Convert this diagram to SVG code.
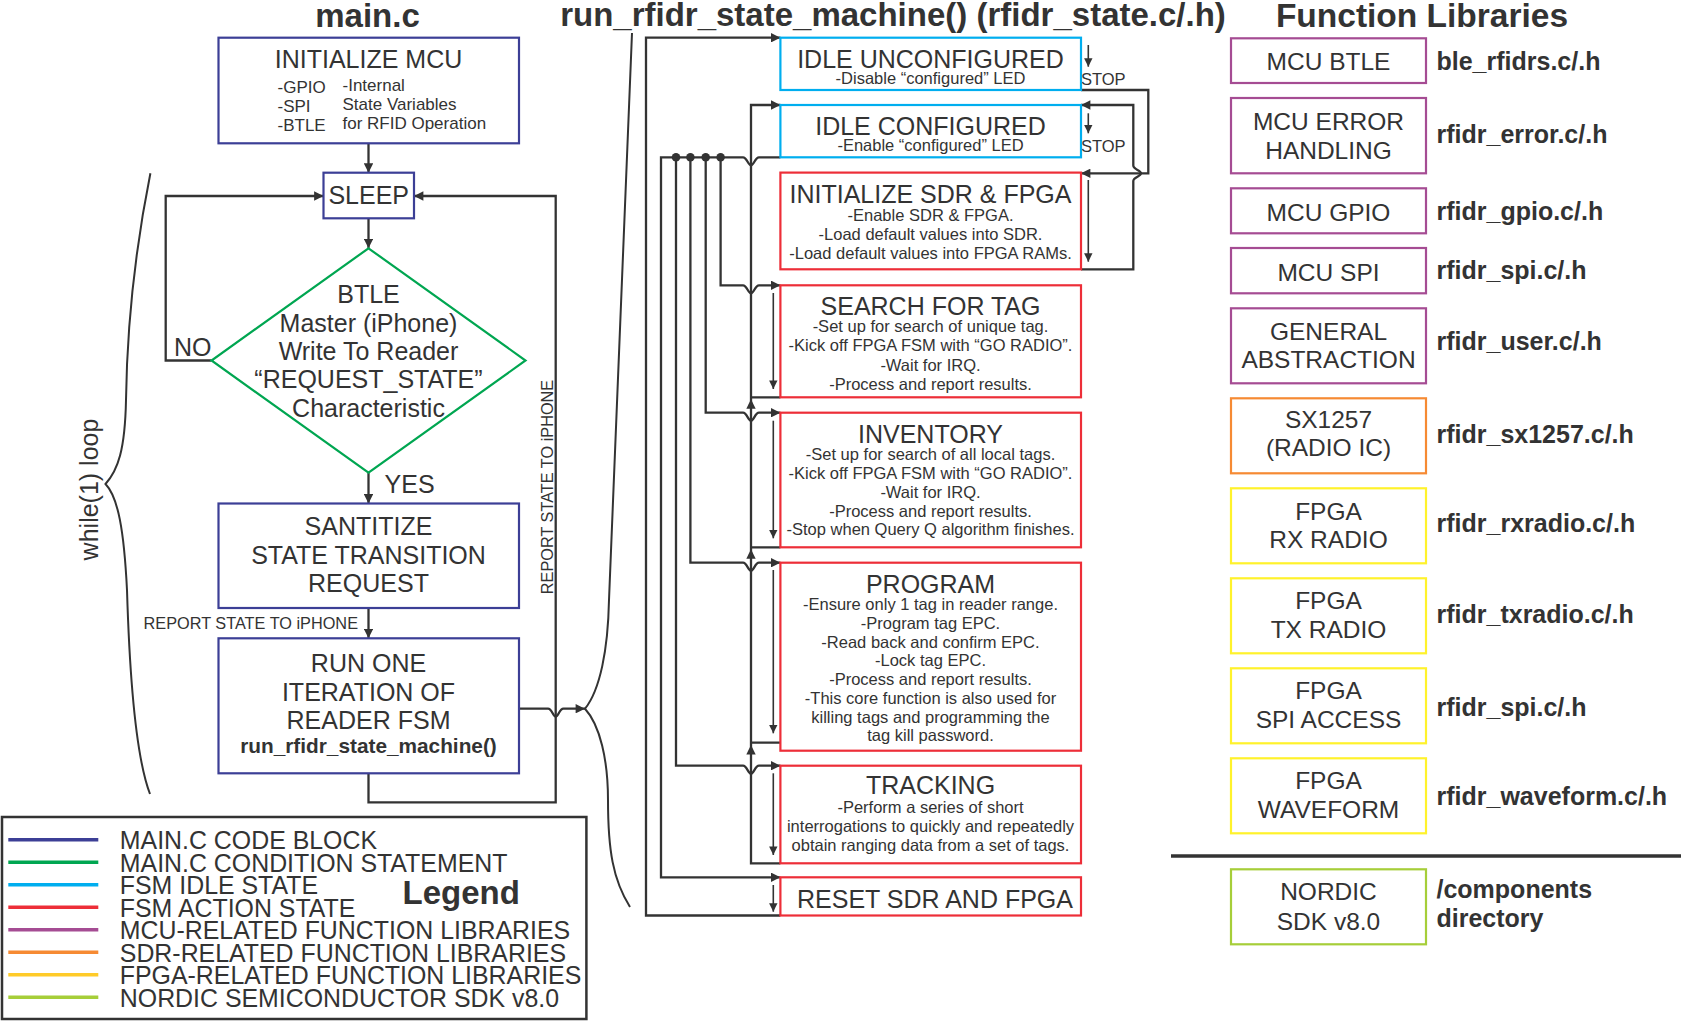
<svg xmlns="http://www.w3.org/2000/svg" width="1681" height="1022" viewBox="0 0 1681 1022">
<style>
.t{font-family:"Liberation Sans",Arial,Helvetica,sans-serif;fill:#333}
.c{text-anchor:middle}
.L{font-size:25px}
.M{font-size:24.5px}
.N{font-size:25px}
.s{font-size:16.5px}
.b{font-weight:bold}
.T{font-size:33px;font-weight:bold}
.box{fill:#fff;stroke-width:2.2}
.main{stroke:#3c3f96}
.cond{stroke:#00a651}
.idle{stroke:#00aeef}
.act{stroke:#ed2e38}
.mcu{stroke:#a54c93}
.sdr{stroke:#f68a33}
.fpga{stroke:#fff22b}
.nrd{stroke:#a6ce39}
.w{fill:none;stroke:#333;stroke-width:2.3}
.th{fill:none;stroke:#333;stroke-width:1.6}
.br{fill:none;stroke:#333;stroke-width:2}
.ua{fill:#333}
</style>
<defs>
<marker id="ah" viewBox="0 0 10 10" refX="10" refY="5" markerWidth="10" markerHeight="9.4" markerUnits="userSpaceOnUse" orient="auto"><path d="M0,0L10,5L0,10z" fill="#333"/></marker>
<marker id="as" viewBox="0 0 10 10" refX="10" refY="5" markerWidth="9" markerHeight="8.4" markerUnits="userSpaceOnUse" orient="auto"><path d="M0,0L10,5L0,10z" fill="#333"/></marker>
</defs>
<rect width="1681" height="1022" fill="#fff"/>

<!-- titles -->
<text class="t T c" x="367.5" y="27">main.c</text>
<text class="t T c" x="893" y="26">run_rfidr_state_machine() (rfidr_state.c/.h)</text>
<text class="t c" style="font-size:33.5px;font-weight:bold" x="1422" y="27">Function Libraries</text>

<!-- connectors -->
<g id="connectors">
<path class="w" marker-end="url(#ah)" d="M368.5,143.3V172.7"/>
<path class="w" marker-end="url(#ah)" d="M368.5,218.3V248.3"/>
<path class="w" marker-end="url(#ah)" d="M211.5,360.5H165.7V196H323.5"/>
<path class="w" marker-end="url(#ah)" d="M368.5,472.7V503.5"/>
<path class="w" marker-end="url(#ah)" d="M368.5,608V638.3"/>
<path class="w" marker-end="url(#ah)" d="M368.5,773.3V802.4H555.7V196H414"/>
<path class="w" marker-end="url(#ah)" d="M519,708.7H548C552,708.7 553,716.7 555.7,716.7C558.4,716.7 559.4,708.7 563.4,708.7H585"/>
<!-- braces -->
<path class="br" d="M632,33L609,600C608,650 600,690 585,708.7C600,725 608,760 608,800C608,850 613,880 630,907"/>
<path class="br" d="M150.4,173.3C135,250 127,330 126,400C125,450 118,470 105.5,484C118,497 124,530 127,590C130,690 137,760 150,794"/>
<!-- FSM outer: RESET -> IDLE UNCONFIGURED -->
<path class="w" marker-end="url(#ah)" d="M780.4,915.5H646V37.7H780.4"/>
<!-- bus from IDLE CONFIGURED -->
<path class="w" marker-end="url(#ah)" d="M780.4,157.3H759C755,157.3 754,165.3 751,165.3C748,165.3 747,157.3 743,157.3H661V877.3H780.4"/>
<path class="w" marker-end="url(#ah)" d="M720.6,157.3V285.3H743C747,285.3 748,293.3 751,293.3C754,293.3 755,285.3 759,285.3H780.4"/>
<path class="w" marker-end="url(#ah)" d="M705.7,157.3V412.7H743C747,412.7 748,420.7 751,420.7C754,420.7 755,412.7 759,412.7H780.4"/>
<path class="w" marker-end="url(#ah)" d="M690.4,157.3V562.7H743C747,562.7 748,570.7 751,570.7C754,570.7 755,562.7 759,562.7H780.4"/>
<path class="w" marker-end="url(#ah)" d="M676,157.3V765.7H743C747,765.7 748,773.7 751,773.7C754,773.7 755,765.7 759,765.7H780.4"/>
<circle class="ua" cx="676" cy="157.3" r="4.3"/>
<circle class="ua" cx="690.4" cy="157.3" r="4.3"/>
<circle class="ua" cx="705.7" cy="157.3" r="4.3"/>
<circle class="ua" cx="720.6" cy="157.3" r="4.3"/>
<!-- return line to IDLE CONFIGURED -->
<path class="w" marker-end="url(#ah)" d="M780.4,863.3H751V105H780.4"/>
<path class="w" d="M780.4,742.7H751M780.4,547.3H751M780.4,397.3H751"/>
<polygon class="ua" points="751,745 755.7,754.5 746.3,754.5"/>
<polygon class="ua" points="751,549.3 755.7,558.8 746.3,558.8"/>
<polygon class="ua" points="751,399.3 755.7,408.8 746.3,408.8"/>
<!-- right side loops -->
<path class="w" marker-end="url(#ah)" d="M1081,90H1148.3V173.3H1081"/>
<path class="w" marker-end="url(#ah)" d="M1081,269.3H1133.3V181C1133.3,177 1141,176.5 1141,173.3C1141,170.1 1133.3,169.6 1133.3,165.6V105H1081"/>
<!-- internal down arrows -->
<path class="th" marker-end="url(#as)" d="M1088.3,45V66.7"/>
<path class="th" marker-end="url(#as)" d="M1088.3,113.3V133.3"/>
<path class="th" marker-end="url(#as)" d="M1088.3,180V261.7"/>
<path class="th" marker-end="url(#as)" d="M773.3,293V389"/>
<path class="th" marker-end="url(#as)" d="M773.3,420.7V538.3"/>
<path class="th" marker-end="url(#as)" d="M773.3,570V733.3"/>
<path class="th" marker-end="url(#as)" d="M773.3,773.3V855"/>
<path class="th" marker-end="url(#as)" d="M773.3,885V911.7"/>
<!-- connector labels -->
<text class="t L" x="174" y="356">NO</text>
<text class="t L" x="384.6" y="492.7">YES</text>
<text class="t" style="font-size:16.3px;text-anchor:end" x="358" y="629.3">REPORT STATE TO iPHONE</text>
<text class="t c" style="font-size:16.3px" transform="translate(553,487) rotate(-90)">REPORT STATE TO iPHONE</text>
<text class="t L c" transform="translate(97.5,489.5) rotate(-90)">while(1) loop</text>
<text class="t s" x="1081" y="85">STOP</text>
<text class="t s" x="1081" y="151.7">STOP</text>
</g>

<!-- main.c nodes -->
<g id="init-mcu">
<rect class="box main" x="218.5" y="37.7" width="300.5" height="105.6"/>
<text class="t L c" x="368.5" y="68.3">INITIALIZE MCU</text>
<text class="t" style="font-size:17px" x="277.5" y="92.7">-GPIO</text>
<text class="t" style="font-size:17px" x="277.5" y="111.7">-SPI</text>
<text class="t" style="font-size:17px" x="277.5" y="130.7">-BTLE</text>
<text class="t" style="font-size:17px" x="342.5" y="91">-Internal</text>
<text class="t" style="font-size:17px" x="342.5" y="110">State Variables</text>
<text class="t" style="font-size:17px" x="342.5" y="129">for RFID Operation</text>
</g>
<g id="sleep">
<rect class="box main" x="323.5" y="172.7" width="90.5" height="45.6"/>
<text class="t L c" x="368.7" y="204">SLEEP</text>
</g>
<g id="btle-decision">
<polygon class="box cond" points="368.5,248.3 525.5,360.5 368.5,472.7 211.5,360.5"/>
<text class="t L c" x="368.5" y="303.3">BTLE</text>
<text class="t L c" x="368.5" y="331.7">Master (iPhone)</text>
<text class="t L c" x="368.5" y="360">Write To Reader</text>
<text class="t L c" x="368.5" y="388.3">“REQUEST_STATE”</text>
<text class="t L c" x="368.5" y="416.7">Characteristic</text>
</g>
<g id="sanitize">
<rect class="box main" x="218.5" y="503.5" width="300.5" height="104.5"/>
<text class="t L c" x="368.5" y="535.2">SANTITIZE</text>
<text class="t L c" x="368.5" y="563.8">STATE TRANSITION</text>
<text class="t L c" x="368.5" y="592">REQUEST</text>
</g>
<g id="run-one">
<rect class="box main" x="218.5" y="638.3" width="300.5" height="135"/>
<text class="t L c" x="368.5" y="672">RUN ONE</text>
<text class="t L c" x="368.5" y="700.7">ITERATION OF</text>
<text class="t L c" x="368.5" y="729">READER FSM</text>
<text class="t b c" style="font-size:20.8px" x="368.5" y="753.4">run_rfidr_state_machine()</text>
</g>

<!-- FSM nodes -->
<g id="idle-unconfigured">
<rect class="box idle" x="780.4" y="37.7" width="300.6" height="52.3"/>
<text class="t L c" x="930.5" y="67.8">IDLE UNCONFIGURED</text>
<text class="t s c" x="930.5" y="83.5">-Disable “configured” LED</text>
</g>
<g id="idle-configured">
<rect class="box idle" x="780.4" y="105" width="300.6" height="52.3"/>
<text class="t L c" x="930.5" y="134.5">IDLE CONFIGURED</text>
<text class="t s c" x="930.5" y="150.9">-Enable “configured” LED</text>
</g>
<g id="init-sdr-fpga">
<rect class="box act" x="780.4" y="172.6" width="300.6" height="96.7"/>
<text class="t L c" x="930.5" y="202.7">INITIALIZE SDR &amp; FPGA</text>
<text class="t s c" x="930.5" y="220.7">-Enable SDR &amp; FPGA.</text>
<text class="t s c" x="930.5" y="240">-Load default values into SDR.</text>
<text class="t s c" x="930.5" y="259">-Load default values into FPGA RAMs.</text>
</g>
<g id="search-for-tag">
<rect class="box act" x="780.4" y="285.3" width="300.6" height="112"/>
<text class="t L c" x="930.5" y="315">SEARCH FOR TAG</text>
<text class="t s c" x="930.5" y="332.3">-Set up for search of unique tag.</text>
<text class="t s c" x="930.5" y="351">-Kick off FPGA FSM with “GO RADIO”.</text>
<text class="t s c" x="930.5" y="370.7">-Wait for IRQ.</text>
<text class="t s c" x="930.5" y="390">-Process and report results.</text>
</g>
<g id="inventory">
<rect class="box act" x="780.4" y="412.7" width="300.6" height="134.6"/>
<text class="t L c" x="930.5" y="443.3">INVENTORY</text>
<text class="t s c" x="930.5" y="460">-Set up for search of all local tags.</text>
<text class="t s c" x="930.5" y="479.3">-Kick off FPGA FSM with “GO RADIO”.</text>
<text class="t s c" x="930.5" y="497.7">-Wait for IRQ.</text>
<text class="t s c" x="930.5" y="516.7">-Process and report results.</text>
<text class="t s c" x="930.5" y="535.3">-Stop when Query Q algorithm finishes.</text>
</g>
<g id="program">
<rect class="box act" x="780.4" y="562.7" width="300.6" height="188"/>
<text class="t L c" x="930.5" y="592.7">PROGRAM</text>
<text class="t s c" x="930.5" y="610">-Ensure only 1 tag in reader range.</text>
<text class="t s c" x="930.5" y="628.7">-Program tag EPC.</text>
<text class="t s c" x="930.5" y="647.7">-Read back and confirm EPC.</text>
<text class="t s c" x="930.5" y="666.3">-Lock tag EPC.</text>
<text class="t s c" x="930.5" y="685">-Process and report results.</text>
<text class="t s c" x="930.5" y="703.7">-This core function is also used for</text>
<text class="t s c" x="930.5" y="722.7">killing tags and programming the</text>
<text class="t s c" x="930.5" y="741">tag kill password.</text>
</g>
<g id="tracking">
<rect class="box act" x="780.4" y="765.7" width="300.6" height="97.6"/>
<text class="t L c" x="930.5" y="794">TRACKING</text>
<text class="t s c" x="930.5" y="813.3">-Perform a series of short</text>
<text class="t s c" x="930.5" y="831.7">interrogations to quickly and repeatedly</text>
<text class="t s c" x="930.5" y="850.7">obtain ranging data from a set of tags.</text>
</g>
<g id="reset-sdr-fpga">
<rect class="box act" x="780.4" y="877.3" width="300.6" height="38.2"/>
<text class="t L c" x="935" y="908.3">RESET SDR AND FPGA</text>
</g>

<!-- function libraries -->
<g id="lib-mcu-btle">
<rect class="box mcu" x="1231" y="38.3" width="195" height="44.7"/>
<text class="t M c" x="1328.5" y="70">MCU BTLE</text>
<text class="t N b" x="1436.5" y="70">ble_rfidrs.c/.h</text>
</g>
<g id="lib-mcu-error">
<rect class="box mcu" x="1231" y="98" width="195" height="75.3"/>
<text class="t M c" x="1328.5" y="130">MCU ERROR</text>
<text class="t M c" x="1328.5" y="159.3">HANDLING</text>
<text class="t N b" x="1436.5" y="143.3">rfidr_error.c/.h</text>
</g>
<g id="lib-mcu-gpio">
<rect class="box mcu" x="1231" y="188.3" width="195" height="45"/>
<text class="t M c" x="1328.5" y="220.7">MCU GPIO</text>
<text class="t N b" x="1436.5" y="219.5">rfidr_gpio.c/.h</text>
</g>
<g id="lib-mcu-spi">
<rect class="box mcu" x="1231" y="248" width="195" height="45.3"/>
<text class="t M c" x="1328.5" y="280.7">MCU SPI</text>
<text class="t N b" x="1436.5" y="278.5">rfidr_spi.c/.h</text>
</g>
<g id="lib-general">
<rect class="box mcu" x="1231" y="308.3" width="195" height="75"/>
<text class="t M c" x="1328.5" y="340">GENERAL</text>
<text class="t M c" x="1328.5" y="368.3">ABSTRACTION</text>
<text class="t N b" x="1436.5" y="350">rfidr_user.c/.h</text>
</g>
<g id="lib-sx1257">
<rect class="box sdr" x="1231" y="398.3" width="195" height="75"/>
<text class="t M c" x="1328.5" y="427.7">SX1257</text>
<text class="t M c" x="1328.5" y="456">(RADIO IC)</text>
<text class="t N b" x="1436.5" y="443.3">rfidr_sx1257.c/.h</text>
</g>
<g id="lib-fpga-rx">
<rect class="box fpga" x="1231" y="488.3" width="195" height="75"/>
<text class="t M c" x="1328.5" y="520">FPGA</text>
<text class="t M c" x="1328.5" y="548.3">RX RADIO</text>
<text class="t N b" x="1436.5" y="531.7">rfidr_rxradio.c/.h</text>
</g>
<g id="lib-fpga-tx">
<rect class="box fpga" x="1231" y="578.3" width="195" height="75"/>
<text class="t M c" x="1328.5" y="609.3">FPGA</text>
<text class="t M c" x="1328.5" y="638.3">TX RADIO</text>
<text class="t N b" x="1436.5" y="623.3">rfidr_txradio.c/.h</text>
</g>
<g id="lib-fpga-spi">
<rect class="box fpga" x="1231" y="668.3" width="195" height="75"/>
<text class="t M c" x="1328.5" y="699.3">FPGA</text>
<text class="t M c" x="1328.5" y="728.3">SPI ACCESS</text>
<text class="t N b" x="1436.5" y="716">rfidr_spi.c/.h</text>
</g>
<g id="lib-fpga-waveform">
<rect class="box fpga" x="1231" y="758.3" width="195" height="75"/>
<text class="t M c" x="1328.5" y="789.3">FPGA</text>
<text class="t M c" x="1328.5" y="818.3">WAVEFORM</text>
<text class="t N b" x="1436.5" y="805">rfidr_waveform.c/.h</text>
</g>
<path d="M1171,856H1681" stroke="#333" stroke-width="3.5"/>
<g id="lib-nordic">
<rect class="box nrd" x="1231" y="869.3" width="195" height="75"/>
<text class="t M c" x="1328.5" y="900">NORDIC</text>
<text class="t M c" x="1328.5" y="930">SDK v8.0</text>
<text class="t N b" x="1436.5" y="898.3">/components</text>
<text class="t N b" x="1436.5" y="926.7">directory</text>
</g>

<!-- legend -->
<g id="legend">
<rect x="2" y="817" width="584.4" height="202" fill="#fff" stroke="#333" stroke-width="2.5"/>
<g stroke-width="3.6">
<path d="M8.3,839.7H98.3" stroke="#3c3f96"/>
<path d="M8.3,862.2H98.3" stroke="#00a651"/>
<path d="M8.3,884.7H98.3" stroke="#00aeef"/>
<path d="M8.3,907.2H98.3" stroke="#ed2e38"/>
<path d="M8.3,929.7H98.3" stroke="#a54c93"/>
<path d="M8.3,952.2H98.3" stroke="#f68a33"/>
<path d="M8.3,974.7H98.3" stroke="#ffcb29"/>
<path d="M8.3,997.2H98.3" stroke="#a6ce39"/>
</g>
<g class="t" style="font-size:24.9px">
<text x="119.8" y="849">MAIN.C CODE BLOCK</text>
<text x="119.8" y="871.5">MAIN.C CONDITION STATEMENT</text>
<text x="119.8" y="894">FSM IDLE STATE</text>
<text x="119.8" y="916.5">FSM ACTION STATE</text>
<text x="119.8" y="939">MCU-RELATED FUNCTION LIBRARIES</text>
<text x="119.8" y="961.5">SDR-RELATED FUNCTION LIBRARIES</text>
<text x="119.8" y="984">FPGA-RELATED FUNCTION LIBRARIES</text>
<text x="119.8" y="1006.5">NORDIC SEMICONDUCTOR SDK v8.0</text>
</g>
<text class="t T" x="402.5" y="904">Legend</text>
</g>
</svg>
